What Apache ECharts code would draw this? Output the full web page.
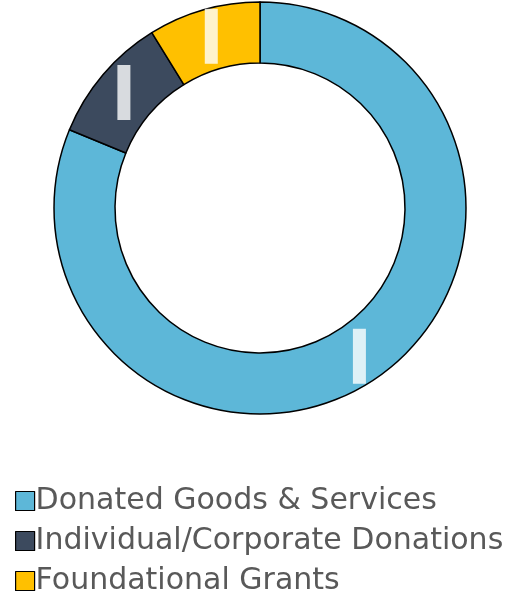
<!DOCTYPE html>
<html>
<head>
<meta charset="utf-8">
<script src="https://cdn.jsdelivr.net/npm/echarts@6/dist/echarts.min.js"></script>
<style>
  html, body { margin: 0; padding: 0; background: #fff; }
  #chart { width: 513px; height: 594px; }
</style>
</head>
<body>
<div id="chart"></div>
<script>
// Funding sources (share of total, %)
const categories = ['Donated Goods & Services', 'Individual/Corporate Donations', 'Foundational Grants'];
const shares = [81.2, 10.0, 8.8];
const colors = ['#5DB7D8', '#3C4A5E', '#FFC000'];

const chart = echarts.init(document.getElementById('chart'), null, { renderer: 'canvas' });

chart.setOption({
  animation: false,
  backgroundColor: '#ffffff',
  legend: {
    orient: 'vertical',
    left: 10,
    top: 481,
    height: 120,
    itemWidth: 19,
    itemHeight: 19,
    itemGap: 10,
    icon: 'rect',
    itemStyle: { borderColor: '#000', borderWidth: 1.2 },
    textStyle: {
      fontFamily: 'DejaVu Sans, Liberation Sans, Arial, sans-serif',
      fontSize: 30,
      lineHeight: 30,
      color: '#595959',
      padding: [0, 0, 0, -4]
    },
    data: categories
  },
  series: [{
    type: 'pie',
    center: [260, 208],
    radius: [145, 206],
    startAngle: 90,
    clockwise: true,
    avoidLabelOverlap: false,
    itemStyle: { borderColor: '#000', borderWidth: 1.5 },
    label: {
      show: true,
      position: 'inside',
      formatter: '{b| }',
      rich: {
        b: {
          width: 13,
          height: 55,
          backgroundColor: 'rgba(255,255,255,0.8)'
        }
      }
    },
    labelLine: { show: false },
    emphasis: { disabled: true },
    data: categories.map((name, i) => ({
      name: name,
      value: shares[i],
      itemStyle: { color: colors[i] }
    }))
  }]
});
</script>
</body>
</html>
